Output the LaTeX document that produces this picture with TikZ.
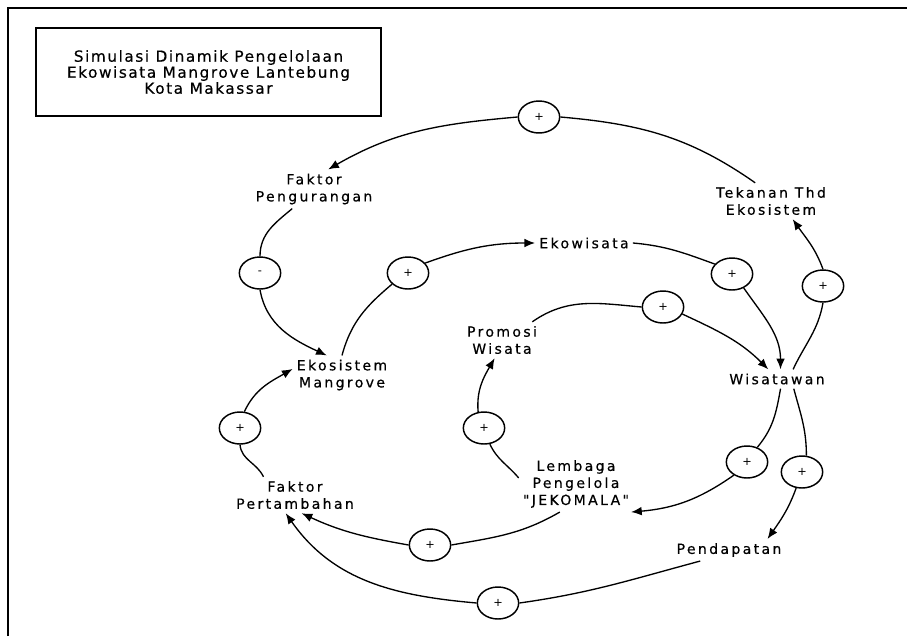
\documentclass[tikz,border=0pt]{standalone}
\usepackage{fontspec}
\setmainfont{DejaVu Sans}
\newfontfamily\titlefont[LetterSpace=10,FakeBold=0.4]{DejaVu Sans}
\newfontfamily\varfont[LetterSpace=17,FakeBold=0.5]{DejaVu Sans}
\usetikzlibrary{shapes.geometric,arrows.meta}
\begin{document}
\begin{tikzpicture}[x=0.75pt,y=-0.75pt,
  var/.style={align=center, inner sep=3pt, font=\varfont\fontsize{10.5}{12.8}\selectfont},
  sgn/.style={ellipse, draw, line width=1.1pt, minimum width=31pt, minimum height=24pt, inner sep=0pt, font=\fontsize{8.5}{9}\selectfont},
  lnk/.style={line width=1pt},
  arr/.style={line width=1pt, -{Latex[length=8pt,width=6.5pt]}}]
\useasboundingbox (0,0) rectangle (907,636);
\draw[line width=1.5pt] (8,636) -- (8,8) -- (907,8);
\node[draw, line width=1.1pt, minimum width=258.75pt, minimum height=66pt, align=center, font=\titlefont\fontsize{11.5}{12}\selectfont] (ttl) at (208.5,72){Simulasi Dinamik Pengelolaan\\Ekowisata Mangrove Lantebung\\Kota Makassar};
\node[var] (fkur) at (314,189){Faktor\\Pengurangan};
\node[var] (tkn) at (771,201){Tekanan Thd\\Ekosistem};
\node[var] (ekw) at (584,243){Ekowisata};
\node[var] (prm) at (502,340){Promosi\\Wisata};
\node[var] (eks) at (342,375){Ekosistem\\Mangrove};
\node[var] (wst) at (777,379){Wisatawan};
\node[var] (ftb) at (295,495){Faktor\\Pertambahan};
\node[var] (lmb) at (576,484){Lembaga\\Pengelola\\"JEKOMALA"};
\node[var] (pdp) at (729,550){Pendapatan};
\node[sgn] (s1) at (539,117){+};
\node[sgn] (s2) at (260,273){-};
\node[sgn] (s3) at (408,273){+};
\node[sgn] (s4) at (732,274){+};
\node[sgn] (s5) at (823,286){+};
\node[sgn] (s6) at (663,307){+};
\node[sgn] (s7) at (240,428){+};
\node[sgn] (s8) at (484,428){+};
\node[sgn] (s9) at (747,462){+};
\node[sgn] (s10) at (802,472){+};
\node[sgn] (s11) at (430,545){+};
\node[sgn] (s12) at (498,603){+};
\draw[lnk] (tkn.131) to[out=145,in=-5] (s1.east);
\draw[arr] (s1.west) to[out=185,in=30] (fkur.54);
\draw[lnk] (fkur.-138) to[out=220,in=90] (s2.north);
\draw[arr] (s2.south) to[out=-80,in=155] (eks.128);
\draw[lnk] (eks.north) to[out=75,in=220] (s3.215);
\draw[arr] (s3.30) to[out=20,in=180] (ekw.west);
\draw[lnk] (ekw.east) to[out=-5,in=160] (s4.150);
\draw[arr] (s4.-50) to[out=-55,in=90] (wst.70);
\draw[lnk] (prm.31) to[out=35,in=175] (s6.west);
\draw[arr] (s6.-20) to[out=-25,in=135] (wst.132);
\draw[lnk] (wst.31) to[out=65,in=-100] (s5.south);
\draw[arr] (s5.north) to[out=110,in=-55] (tkn.-40);
\draw[lnk] (wst.-70) to[out=-100,in=50] (s9.55);
\draw[arr] (s9.225) to[out=-145,in=5] (lmb.-27);
\draw[lnk] (wst.-30) to[out=-75,in=90] (s10.75);
\draw[arr] (s10.-110) to[out=-110,in=55] (pdp.16);
\draw[lnk] (lmb.174) to[out=130,in=-65] (s8.-70);
\draw[arr] (s8.110) to[out=95,in=-120] (prm.-112);
\draw[lnk] (lmb.-120) to[out=-150,in=10] (s11.east);
\draw[arr] (s11.west) to[out=170,in=-25] (ftb.-70);
\draw[lnk] (pdp.-159) to[out=-165,in=8] (s12.east);
\draw[arr] (s12.west) to[out=175,in=-55] (ftb.-117);
\draw[lnk] (ftb.150) to[out=115,in=-85] (s7.south);
\draw[arr] (s7.75) to[out=65,in=-150] (eks.173);
\end{tikzpicture}
\end{document}
